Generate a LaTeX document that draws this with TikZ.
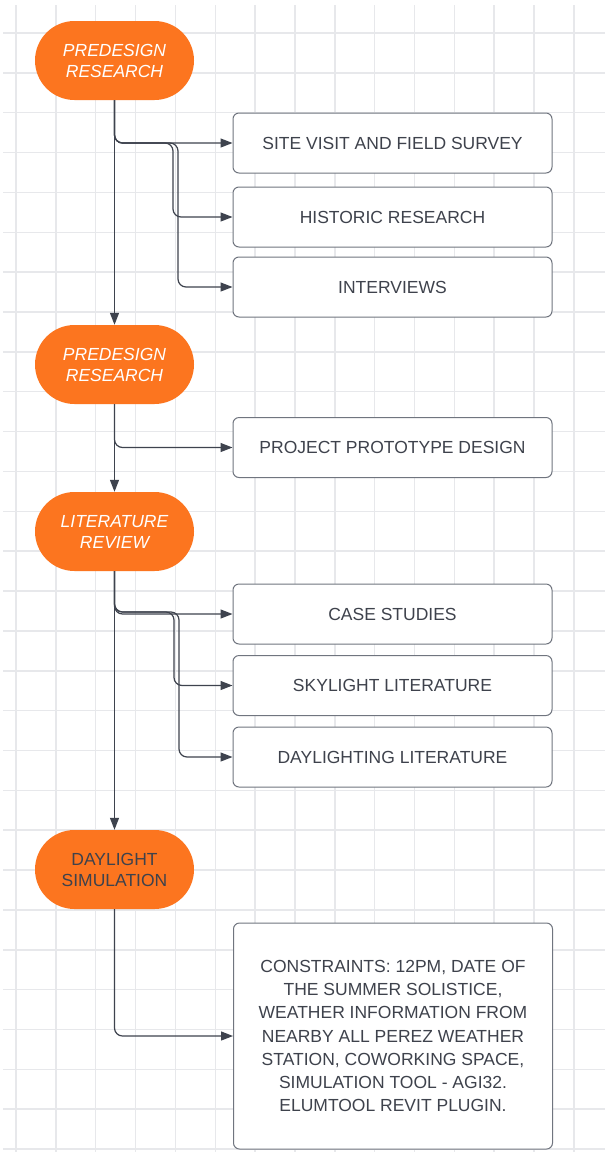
\documentclass[tikz,border=0pt]{standalone}
\usepackage{fontspec}
\setmainfont{Liberation Sans}
\usetikzlibrary{arrows.meta,shapes.misc}
\definecolor{lucidorange}{RGB}{252,117,31}
\definecolor{gridgray}{RGB}{231,232,235}
\definecolor{linegray}{RGB}{62,67,78}
\definecolor{boxgray}{RGB}{112,117,127}
\definecolor{txtgray}{RGB}{62,66,76}
\begin{document}
\begin{tikzpicture}[x=1pt,y=-1pt,
  pill/.style={rounded rectangle,fill=lucidorange,minimum width=159pt,minimum height=79pt,inner sep=0pt,align=center,font=\fontsize{17.5}{21}\selectfont\itshape,text=white},
  task/.style={draw=boxgray,line width=1pt,rounded corners=6pt,fill=white,minimum width=319pt,minimum height=60pt,align=center,font=\fontsize{17.5}{23.3}\selectfont,text=txtgray},
  conn/.style={draw=linegray,line width=1.2pt,rounded corners=8pt,-{Triangle[length=12pt,width=9pt]}}]
\fill[white] (0,0) rectangle (605,1152);
\useasboundingbox (0,0) rectangle (605,1152);
\foreach \gx in {0,...,14}
  \draw[gridgray,line width=1.5pt] (16+39.85*\gx,5) -- (16+39.85*\gx,1152);
\foreach \gy in {0,...,28}
  \draw[gridgray,line width=1.5pt] (3,33+39.86*\gy) -- (605,33+39.86*\gy);
\node[pill] (pre1) at (114.5,60.5) {PREDESIGN\\RESEARCH};
\node[pill] (pre2) at (114.5,364.5) {PREDESIGN\\RESEARCH};
\node[pill] (lit) at (114.5,531.5) {LITERATURE\\REVIEW};
\node[pill,font=\fontsize{17.5}{21}\selectfont,text=txtgray] (sim) at (114.5,869.5) {DAYLIGHT\\SIMULATION};
\node[task] (site) at (392.5,143) {SITE VISIT AND FIELD SURVEY};
\node[task] (hist) at (392.5,217) {HISTORIC RESEARCH};
\node[task] (inter) at (392.5,287) {INTERVIEWS};
\node[task] (proto) at (392.5,447.5) {PROJECT PROTOTYPE DESIGN};
\node[task] (case) at (392.5,614) {CASE STUDIES};
\node[task] (sky) at (392.5,685.5) {SKYLIGHT LITERATURE};
\node[task] (dayl) at (392.5,757) {DAYLIGHTING LITERATURE};
\node[task,minimum height=226pt] (cons) at (393,1036) {CONSTRAINTS: 12PM, DATE OF\\THE SUMMER SOLISTICE,\\WEATHER INFORMATION FROM\\NEARBY ALL PEREZ WEATHER\\STATION, COWORKING SPACE,\\SIMULATION TOOL - AGI32.\\ELUMTOOL REVIT PLUGIN.};
\draw[conn] (pre1.south) -- (pre2.north);
\draw[conn] (pre2.south) -- (lit.north);
\draw[conn] (lit.south) -- (sim.north);
\draw[conn] (pre1.south) |- (site.west);
\draw[conn] (pre1.south) |- (173,143) |- (hist.west);
\draw[conn] (pre1.south) |- (178,143) |- (inter.west);
\draw[conn] (pre2.south) |- (proto.west);
\draw[conn] (lit.south) |- (case.west);
\draw[conn] (lit.south) |- (174,612) |- (sky.west);
\draw[conn] (lit.south) |- (179,612) |- (dayl.west);
\draw[conn] (sim.south) |- (cons.west);
\end{tikzpicture}
\end{document}
